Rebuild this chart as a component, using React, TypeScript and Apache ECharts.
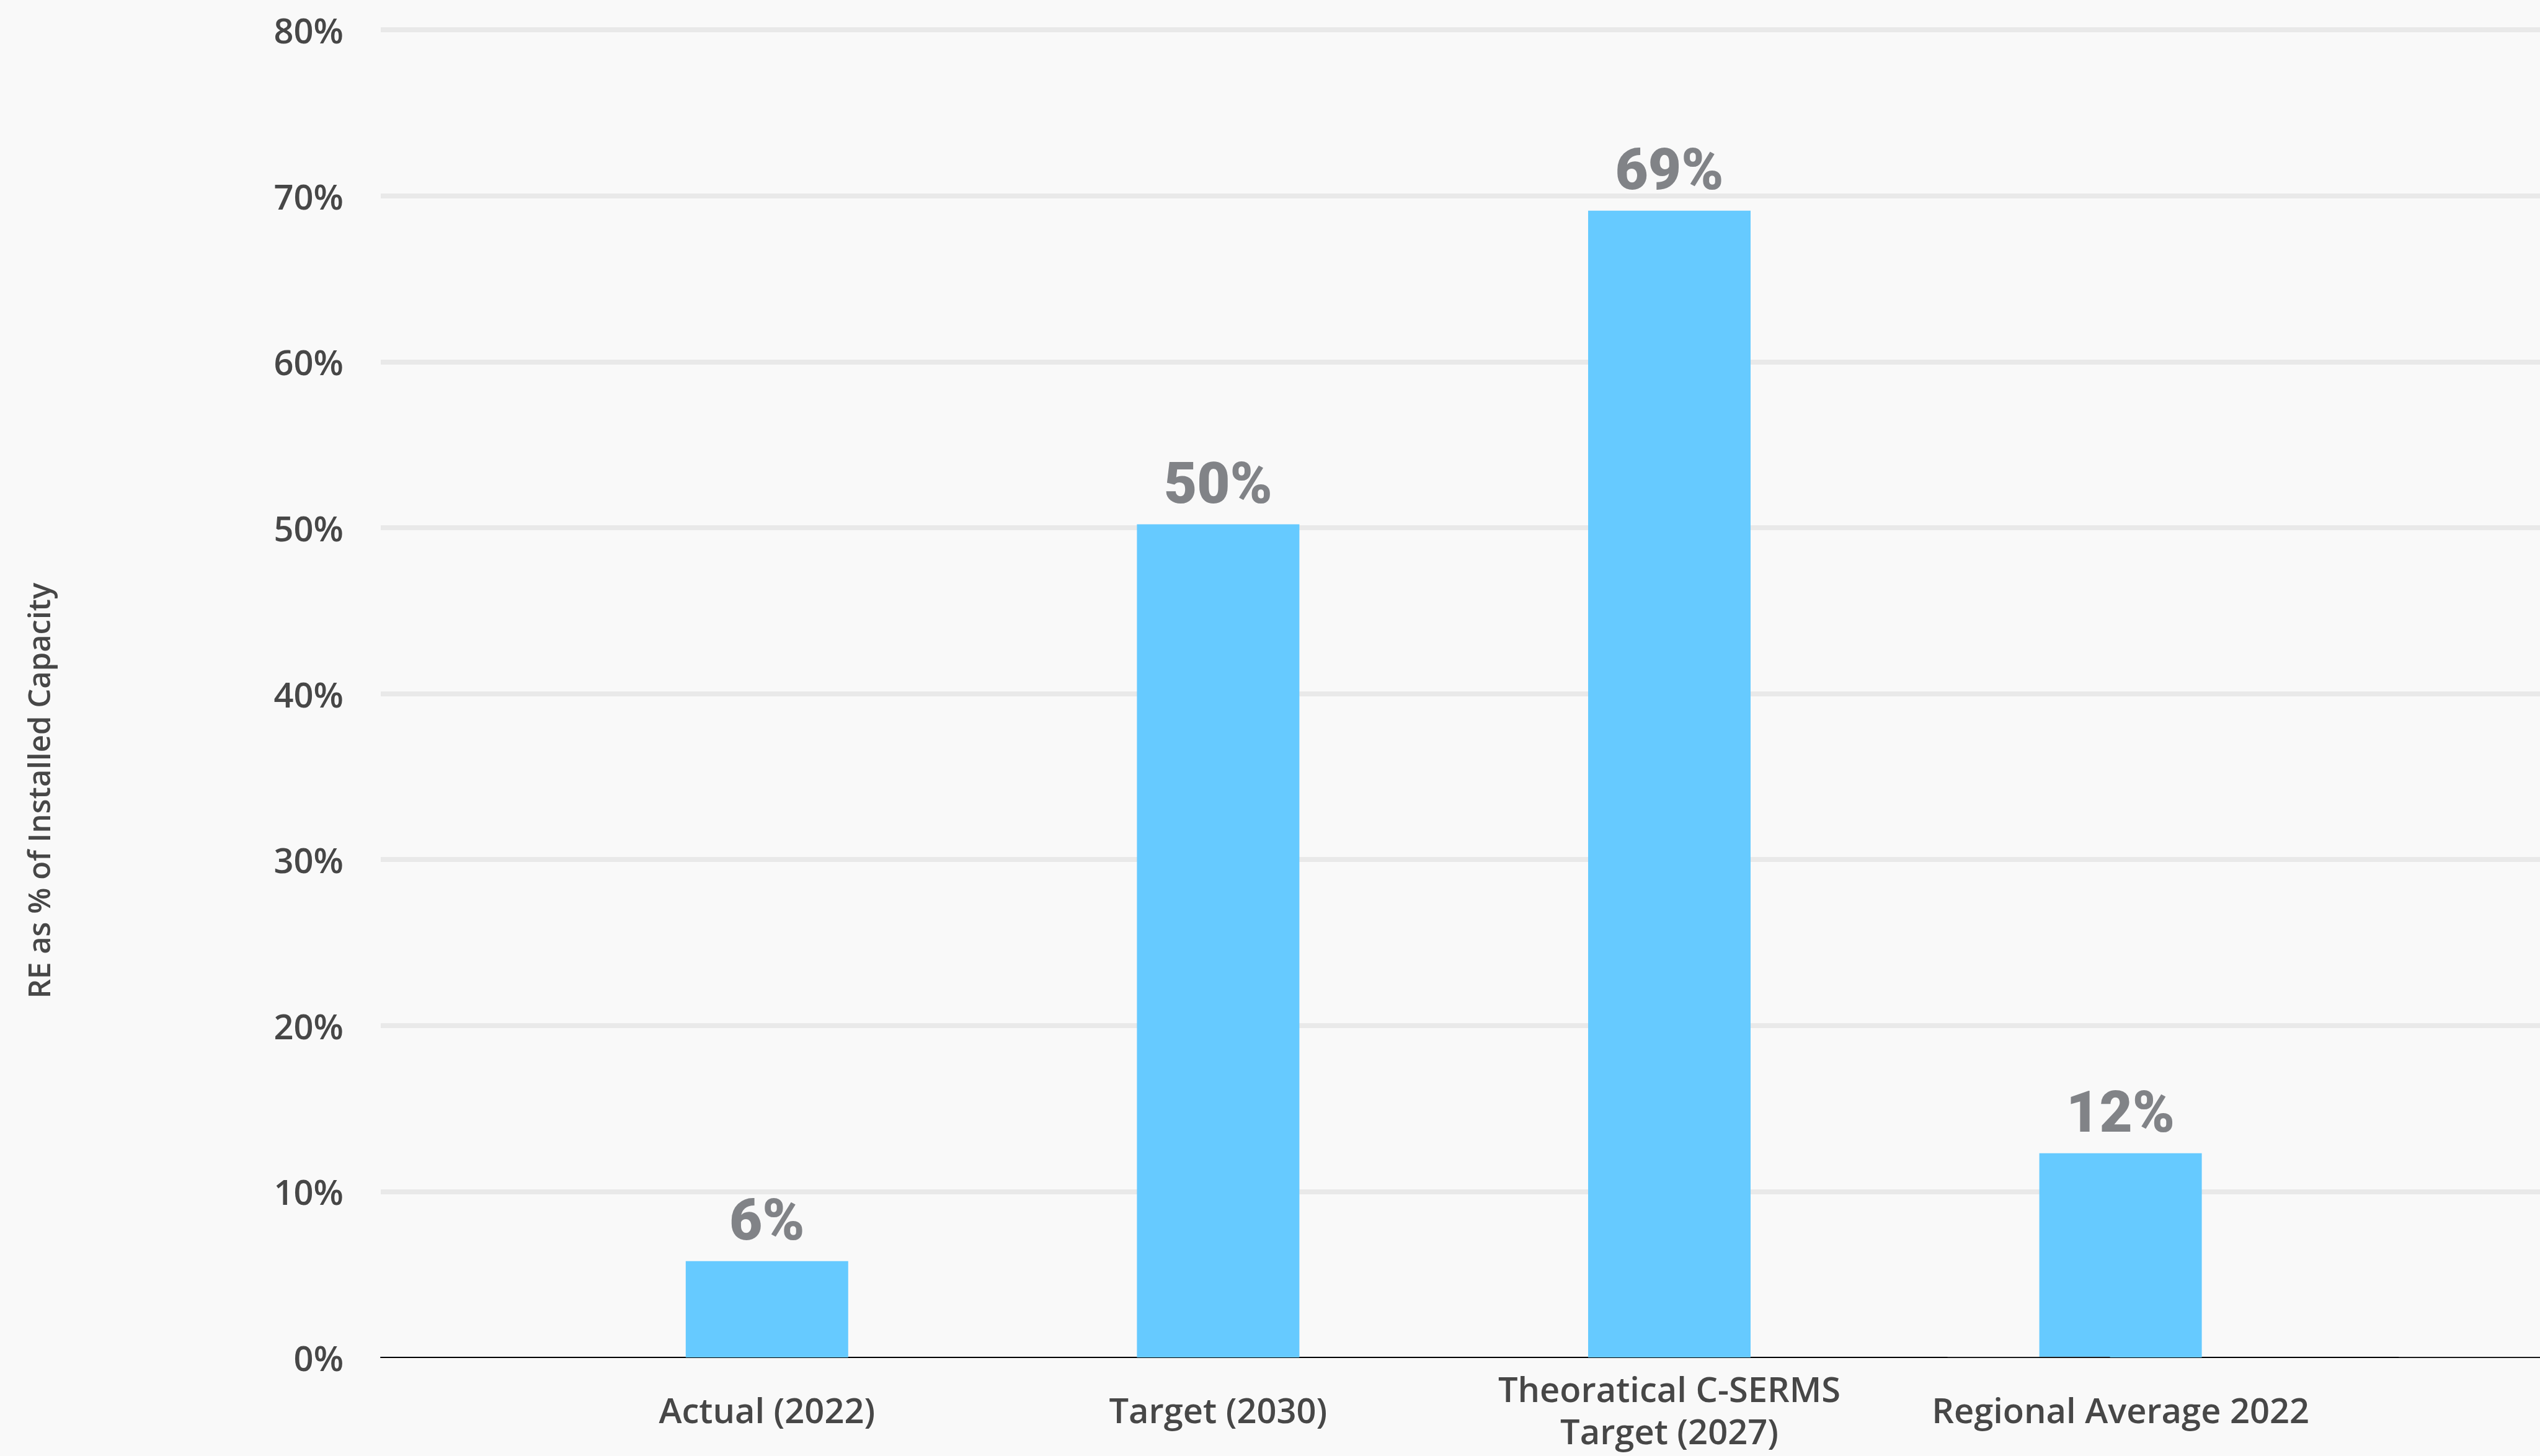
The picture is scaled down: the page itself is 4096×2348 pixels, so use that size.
import React, { useEffect, useRef } from "react";
import * as echarts from "echarts";

// ---- data ----
const categories = [
  "Actual (2022)",
  "Target (2030)",
  "Theoratical C-SERMS\nTarget (2027)",
  "Regional Average 2022",
  "",
];
const reShare = [5.8, 50.2, 69.1, 12.3, null];
const baselineMarks = [null, null, null, 0.04, 0.04];
const yMin = 0;
const yMax = 80;
const yStep = 10;
const yTitle = "RE as % of Installed Capacity";

// ---- layout (px in the 4096x2348 window) ----
const W = 4096;
const H = 2348;
const CW = 4700; // chart canvas is wider than the window; the rest is cut off
const plotTop = 48;
const plotBottomY = 2189;
const plotH = plotBottomY - plotTop;
const axisLeft = 614;
const catW = 727.6;
const barsLeft = 873;
const nCats = categories.length;
const darkShift = 148;

const FONT = "'Open Sans', 'Noto Sans', sans-serif";

export default function App() {
  const ref = useRef<HTMLDivElement>(null);
  useEffect(() => {
    if (!ref.current) return;
    const chart = echarts.init(ref.current, undefined, { renderer: "svg" });
    const gridLineH = (plotH * (yMax - yStep - yMin)) / (yMax - yMin);
    const option: any = {
      animation: false,
      backgroundColor: "#f9f9f9",
      grid: [
        { left: axisLeft, top: plotTop, width: W - axisLeft, height: plotH },
        { left: axisLeft, top: plotTop, width: W - axisLeft, height: gridLineH },
        { left: barsLeft, top: plotTop, width: catW * nCats, height: plotH },
        { left: barsLeft - darkShift, top: plotTop, width: catW * nCats, height: plotH },
      ],
      xAxis: [
        {
          gridIndex: 0,
          type: "value",
          min: 0,
          max: 1,
          axisLine: { show: true, onZero: true, lineStyle: { color: "#000", width: 2 } },
          axisTick: { show: false },
          axisLabel: { show: false },
          splitLine: { show: false },
        },
        { gridIndex: 1, type: "value", show: false, min: 0, max: 1 },
        {
          gridIndex: 2,
          type: "category",
          data: categories,
          axisLine: { show: false },
          axisTick: { show: false },
          axisLabel: {
            interval: 0,
            fontFamily: FONT,
            fontWeight: 600,
            fontSize: 56,
            lineHeight: 68,
            color: "#474747",
            verticalAlign: "middle",
            margin: 84,
          },
        },
        { gridIndex: 3, type: "category", data: categories, show: false },
      ],
      yAxis: [
        {
          gridIndex: 0,
          type: "value",
          min: yMin,
          max: yMax,
          interval: yStep,
          axisLine: { show: false },
          axisTick: { show: false },
          splitLine: { show: false },
          axisLabel: {
            formatter: "{value}%",
            fontFamily: FONT,
            fontWeight: 600,
            fontSize: 56,
            color: "#474747",
            margin: 60,
          },
        },
        {
          gridIndex: 1,
          type: "value",
          min: yMin + yStep,
          max: yMax,
          interval: yStep,
          axisLine: { show: false },
          axisTick: { show: false },
          axisLabel: { show: false },
          splitLine: { show: true, lineStyle: { color: "#e9e9e9", width: 8 } },
        },
        { gridIndex: 2, type: "value", min: yMin, max: yMax, show: false },
        { gridIndex: 3, type: "value", min: yMin, max: yMax, show: false },
      ],
      series: [
        {
          type: "bar",
          xAxisIndex: 2,
          yAxisIndex: 2,
          data: reShare,
          barWidth: 262,
          itemStyle: { color: "#66caff" },
          label: {
            show: true,
            position: "top",
            distance: 20,
            formatter: (p: any) => Math.round(p.value) + "%",
            fontFamily: "Roboto, 'Noto Sans', sans-serif",
            fontWeight: 900,
            fontSize: 92,
            color: "#818387",
          },
          z: 3,
        },
        {
          type: "bar",
          xAxisIndex: 3,
          yAxisIndex: 3,
          data: baselineMarks,
          barWidth: 262,
          itemStyle: { color: "#333333" },
          z: 4,
        },
      ],
      graphic: [
        {
          type: "text",
          x: 62,
          y: 1275,
          rotation: Math.PI / 2,
          style: {
            text: yTitle,
            fontFamily: FONT,
            fontWeight: 600,
            fontSize: 49,
            fill: "#474747",
            textAlign: "center",
            textVerticalAlign: "middle",
          },
        },
      ],
    };
    chart.setOption(option);
    return () => chart.dispose();
  }, []);
  return (
    <div
      style={{
        position: "fixed",
        left: 0,
        top: 0,
        width: W,
        height: H,
        overflow: "hidden",
        background: "#f9f9f9",
      }}
    >
      <div ref={ref} style={{ width: CW, height: H }} />
    </div>
  );
}
